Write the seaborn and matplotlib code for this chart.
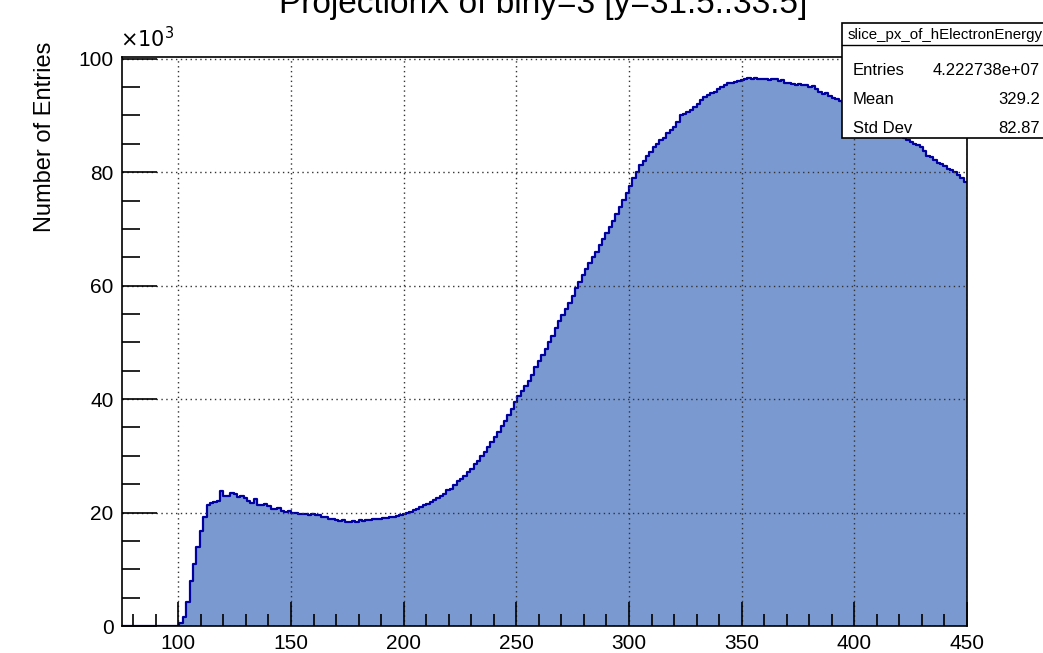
import numpy as np
import pandas as pd
import matplotlib
matplotlib.use("Agg")
import matplotlib.pyplot as plt
import seaborn as sns
from matplotlib.patches import Rectangle
from matplotlib.lines import Line2D
from matplotlib.ticker import MultipleLocator

# binning of the projection: 250 bins of 1.5 between 75 and 450
x_low = 75.0
x_high = 450.0
bin_width = 1.5

# entries per bin in units of 10^3
empty_bins = [0.0] * 17  # 75 .. 100.5
counts_k = [
    0.5, 1.5, 4.2, 8.0, 11.0, 14.0, 16.8, 19.2, 21.3, 21.7,
    21.8, 22.0, 23.8, 22.9, 23.0, 23.4, 23.3, 22.8, 22.9, 22.5,
    22.1, 21.6, 22.3, 21.3, 21.3, 21.5, 21.2, 20.7, 20.6, 20.8,
    20.3, 20.1, 20.2, 19.9, 20.0, 19.8, 19.7, 19.8, 19.6, 19.7,
    19.5, 19.6, 19.3, 19.2, 18.9, 18.8, 18.7, 18.5, 18.6, 18.4,
    18.4, 18.5, 18.4, 18.6, 18.5, 18.7, 18.7, 18.8, 18.8, 18.9,
    19.0, 19.1, 19.2, 19.3, 19.4, 19.5, 19.7, 19.9, 20.1, 20.5,
    20.7, 21.0, 21.3, 21.5, 21.8, 22.2, 22.5, 23.0, 23.3, 23.9,
    24.2, 24.9, 25.5, 26.0, 26.4, 27.2, 27.7, 28.5, 29.1, 29.9,
    30.6, 31.5, 32.4, 33.3, 34.2, 35.2, 36.1, 37.2, 38.3, 39.5,
    40.6, 41.4, 42.3, 43.2, 44.3, 45.6, 46.7, 47.8, 48.9, 50.1,
    51.2, 52.6, 53.8, 54.8, 55.8, 56.9, 58.2, 59.5, 60.7, 61.9,
    63.0, 64.0, 65.1, 66.0, 67.1, 68.2, 69.3, 70.3, 71.4, 72.6,
    73.8, 75.1, 76.4, 77.6, 78.9, 80.0, 81.2, 81.9, 82.8, 83.6,
    84.4, 85.0, 85.7, 86.1, 86.9, 87.4, 88.0, 88.9, 90.0, 90.3,
    90.6, 90.9, 91.4, 92.0, 92.7, 93.2, 93.6, 94.0, 94.2, 94.6,
    95.0, 95.3, 95.7, 95.7, 95.9, 96.1, 96.3, 96.5, 96.6, 96.5,
    96.6, 96.5, 96.4, 96.5, 96.3, 96.5, 96.4, 96.1, 96.2, 95.8,
    95.8, 95.5, 95.3, 95.5, 95.4, 95.3, 95.0, 95.2, 94.6, 94.2,
    93.8, 93.9, 93.4, 93.1, 92.9, 92.6, 92.3, 92.0, 91.6, 91.3,
    91.0, 90.6, 90.3, 89.9, 89.6, 89.2, 88.9, 88.5, 88.1, 87.8,
    87.5, 87.1, 86.8, 86.5, 86.1, 85.7, 85.4, 85.0, 84.7, 84.4,
    83.7, 82.9, 82.6, 82.2, 81.7, 81.5, 81.0, 80.6, 80.3, 80.0,
    79.5, 79.0, 78.3,
]

title = "ProjectionX of biny=3 [y=31.5..33.5]"
hist_name = "slice_px_of_hElectronEnergy"
stat_labels = ["Entries", "Mean", "Std Dev"]
stat_values = ["4.222738e+07", "329.2", "82.87"]

n_bins = len(empty_bins) + len(counts_k)
centers = x_low + bin_width * (np.arange(n_bins) + 0.5)
df = pd.DataFrame({"energy": centers, "entries": empty_bins + counts_k})

W, H = 1043, 653
fill_color = "#7a99d1"
line_color = "#0000a0"
plt.rcParams["font.family"] = ["Liberation Sans", "DejaVu Sans"]


def fx(px):
    return px / W


def fy(py):
    return 1 - py / H


fig = plt.figure(figsize=(W / 100, H / 100), dpi=100)
ax = fig.add_axes([fx(122), fy(626), (967 - 122) / W, (626 - 57) / H])

sns.histplot(data=df, x="energy", weights="entries", binwidth=bin_width, binrange=(x_low, x_high),
             element="step", fill=True, color=fill_color, alpha=1, linewidth=0, ax=ax)
sns.histplot(data=df, x="energy", weights="entries", binwidth=bin_width, binrange=(x_low, x_high),
             element="step", fill=False, color=line_color, linewidth=1.6, ax=ax)

ax.set_xlim(x_low, x_high)
ax.set_ylim(0, 100.3)
ax.set_xlabel("")
ax.set_ylabel("")

ax.xaxis.set_major_locator(MultipleLocator(50))
ax.xaxis.set_minor_locator(MultipleLocator(10))
ax.yaxis.set_major_locator(MultipleLocator(20))
ax.yaxis.set_minor_locator(MultipleLocator(5))
ax.tick_params(axis="both", which="both", direction="in", labelsize=15, color="black")
ax.tick_params(axis="x", which="major", length=17, width=1.2, pad=6)
ax.tick_params(axis="x", which="minor", length=9, width=1.2)
ax.tick_params(axis="y", which="major", length=25, width=1.2, pad=6)
ax.tick_params(axis="y", which="minor", length=13, width=1.2)
ax.grid(True, which="major", color="#333333", linestyle=(0, (1, 2.5)), linewidth=1.0)
ax.set_axisbelow(False)
for s in ax.spines.values():
    s.set_linewidth(1.2)
    s.set_color("black")
    s.set_zorder(5)

fig.text(fx(45), fy(137), "Number of Entries", fontsize=17, rotation=90, ha="center", va="center")
fig.text(fx(120), fy(47), r"$\times10^{3}$", fontsize=15, ha="left", va="baseline")
fig.text(fx(543), fy(13), title, fontsize=24, ha="center", va="baseline")

# statistics box
box = Rectangle((fx(842), fy(138)), (1060 - 842) / W, (138 - 23) / H, transform=fig.transFigure,
                facecolor="white", edgecolor="black", linewidth=1.2, zorder=10)
fig.add_artist(box)
fig.add_artist(Line2D([fx(842), fx(1060)], [fy(45), fy(45)], transform=fig.transFigure,
                      color="black", linewidth=1.0, zorder=11))
fig.text(fx(848), fy(39), hist_name, fontsize=10.8, ha="left", va="baseline", zorder=12)
for i, (lab, val) in enumerate(zip(stat_labels, stat_values)):
    yb = 75 + 29 * i
    fig.text(fx(853), fy(yb), lab, fontsize=12, ha="left", va="baseline", zorder=12)
    fig.text(fx(1040), fy(yb), val, fontsize=12, ha="right", va="baseline", zorder=12)

fig.savefig("out.png", dpi=100)
